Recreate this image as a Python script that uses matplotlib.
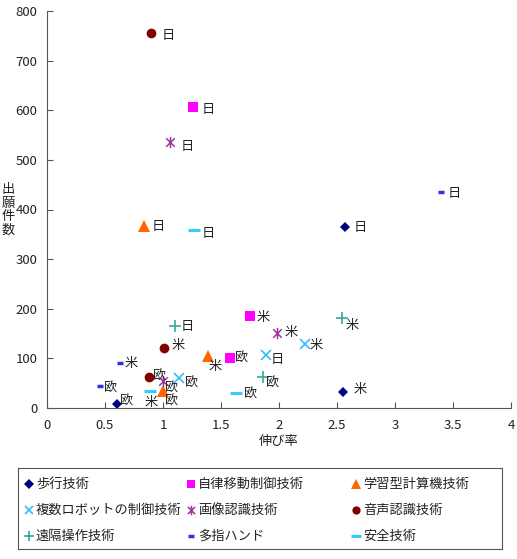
import matplotlib
matplotlib.use('Agg')
import matplotlib.pyplot as plt
from matplotlib.path import Path

plt.rcParams['font.family'] = ['Noto Sans CJK JP', 'DejaVu Sans']

# データ (伸び率, 出願件数) 日・米・欧
GIJUTSU = ['歩行技術', '自律移動制御技術', '学習型計算機技術',
           '複数ロボットの制御技術', '画像認識技術', '音声認識技術',
           '遠隔操作技術', '多指ハンド', '安全技術']
CHIIKI = ['日', '米', '欧']

nobiritsu = [
    [2.57, 2.55, 0.60],
    [1.26, 1.75, 1.58],
    [0.84, 1.39, 1.00],
    [1.89, 2.22, 1.14],
    [1.06, 1.98, 1.00],
    [0.90, 1.01, 0.88],
    [1.10, 2.54, 1.86],
    [3.40, 0.63, 0.46],
    [1.27, 0.89, 1.63],
]
shutsugan = [
    [364, 33, 9],
    [606, 186, 100],
    [366, 104, 34],
    [106, 129, 61],
    [537, 152, 55],
    [756, 121, 62],
    [165, 181, 62],
    [435, 91, 44],
    [358, 34, 31],
]

# 星マーカー (X + 縦線)
hoshi = Path([(-1, -1), (1, 1), (-1, 1), (1, -1), (0, -1.3), (0, 1.3)],
             [Path.MOVETO, Path.LINETO, Path.MOVETO, Path.LINETO, Path.MOVETO, Path.LINETO])

styles = [
    dict(marker='D', color='#000080', ms=5.5, mew=0),
    dict(marker='s', color='#FF00FF', ms=7, mew=0),
    dict(marker='^', color='#FF6600', ms=8, mew=0),
    dict(marker='x', color='#33BBFF', ms=7, mew=1.2),
    dict(marker=hoshi, color='#A035A0', ms=8, mew=1.1),
    dict(marker='o', color='#800000', ms=7, mew=0),
    dict(marker='+', color='#33AA99', ms=8, mew=1.2),
    dict(marker='_', color='#3333DD', ms=4.5, mew=2.5),
    dict(marker='_', color='#33CCFF', ms=8, mew=2.2),
]

# ラベル位置 (ピクセル, 右・下方向)
ofs_default = (13, 2)
ofs = {
    (0, 0): (15, 0), (0, 1): (17, -2), (0, 2): (10, -1),
    (1, 0): (15, 2), (1, 2): (11, 1),
    (2, 0): (14, 0), (2, 1): (7, 10), (2, 2): (9, 11),
    (3, 0): (11, 4), (3, 1): (12, 2), (3, 2): (12, 7),
    (4, 0): (17, 5), (4, 1): (14, 0), (4, 2): (9, 9),
    (5, 0): (17, 3), (5, 1): (14, -2), (5, 2): (10, 0),
    (6, 0): (13, 0), (6, 1): (11, 7), (6, 2): (10, 7),
    (7, 0): (13, 1), (7, 1): (11, 1), (7, 2): (10, 3),
    (8, 0): (14, 3), (8, 1): (1, 11), (8, 2): (14, 3),
}

W, H = 517, 559
fig = plt.figure(figsize=(W / 100, H / 100), dpi=100)
ax = fig.add_axes([47 / W, 1 - 408 / H, 464 / W, 397 / H])

for i, name in enumerate(GIJUTSU):
    st = styles[i]
    ax.plot(nobiritsu[i], shutsugan[i], linestyle='none', marker=st['marker'],
            color=st['color'], markersize=st['ms'], markeredgewidth=st['mew'])
    for j, c in enumerate(CHIIKI):
        dx, dy = ofs.get((i, j), ofs_default)
        ax.annotate(c, (nobiritsu[i][j], shutsugan[i][j]), xytext=(dx, -dy),
                    textcoords='offset pixels', ha='center', va='center',
                    fontsize=9.5, color='#222222')

ax.set_xlim(0, 4)
ax.set_ylim(0, 800)
ax.set_xticks([0, 0.5, 1, 1.5, 2, 2.5, 3, 3.5, 4])
ax.set_xticklabels(['0', '0.5', '1', '1.5', '2', '2.5', '3', '3.5', '4'])
ax.set_yticks(range(0, 801, 100))
for s in ['top', 'right']:
    ax.spines[s].set_visible(False)
for s in ['left', 'bottom']:
    ax.spines[s].set_color('#555555')
ax.tick_params(direction='in', length=4, color='#555555', labelsize=9.5, labelcolor='#222222')
ax.tick_params(axis='x', pad=8)
ax.tick_params(axis='y', pad=7)
ax.set_xlabel('伸び率', fontsize=9.5, color='#222222', labelpad=2)
fig.text(8 / W, 1 - 210 / H, '出\n願\n件\n数', ha='center', va='center',
         fontsize=9.5, color='#222222', linespacing=1.05)

# 凡例 (Excel風の等幅3列, ピクセル座標の軸で描く)
lx0, ly0, lx1, ly1 = 18, 468, 502, 549
lax = fig.add_axes([lx0 / W, 1 - ly1 / H, (lx1 - lx0) / W, (ly1 - ly0) / H])
lax.set_xlim(lx0, lx1)
lax.set_ylim(ly1, ly0)
lax.set_xticks([])
lax.set_yticks([])
for s in lax.spines.values():
    s.set_color('#555555')
    s.set_linewidth(0.8)
col_x = [29, 191, 356]
row_y = [484, 510, 536]
for i, name in enumerate(GIJUTSU):
    st = styles[i]
    x = col_x[i % 3]
    y = row_y[i // 3]
    lax.plot([x], [y], linestyle='none', marker=st['marker'], color=st['color'],
             markersize=st['ms'] * 0.85, markeredgewidth=st['mew'])
    lax.text(x + 7, y, name, ha='left', va='center', fontsize=9.5, color='#222222')

fig.savefig('out.png', dpi=100)
